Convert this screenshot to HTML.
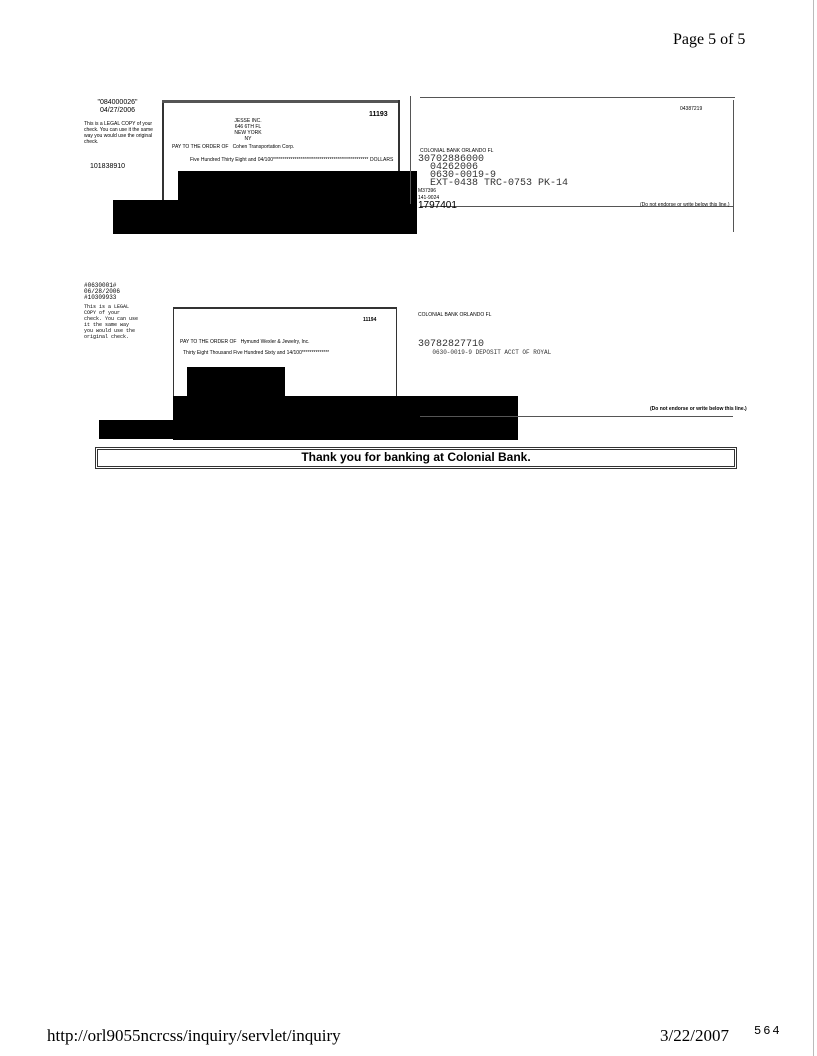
<!DOCTYPE html>
<html><head><meta charset="utf-8"><style>
body{margin:0;width:817px;height:1056px;background:#fff;position:relative;overflow:hidden;font-family:"Liberation Serif",serif;color:#000}
.a{position:absolute}
.s{font-family:"Liberation Sans",sans-serif;font-size:5px;line-height:6px}
.blk{position:absolute;background:#000}
.l{position:absolute;background:#555}
</style></head><body>
<div class="a" style="left:673px;top:31px;font-size:16px">Page 5 of 5</div>
<div class="l" style="left:813px;top:0;width:1px;height:1056px;background:#bbb"></div>

<!-- top check -->
<div class="a s" style="left:90px;top:99px;font-size:7px;line-height:8px;text-align:center;width:55px">"084000026"<br>04/27/2006</div>
<div class="a s" style="left:84px;top:121px;width:70px">This is a LEGAL COPY of your check. You can use it the same way you would use the original check.</div>
<div class="a s" style="left:90px;top:164px;font-size:7px">101838910</div>
<div class="a" style="left:162px;top:100px;width:234px;height:130px;border:2px solid #333;border-bottom:none"></div>
<div class="l" style="left:162px;top:100px;width:236px;height:3px"></div>
<div class="a s" style="left:369px;top:112px;font-size:7px;font-weight:bold">11193</div>
<div class="a s" style="left:233px;top:118px;width:30px;text-align:center">JESSE INC.<br>646 6TH FL<br>NEW YORK NY</div>
<div class="a s" style="left:172px;top:144px">PAY TO THE ORDER OF &nbsp; Cohen Transportation Corp.</div>
<div class="a s" style="left:190px;top:157px;width:200px;overflow:hidden;white-space:nowrap">Five Hundred Thirty Eight and 04/100*************************************************</div>
<div class="a s" style="left:370px;top:157px">DOLLARS</div>
<div class="blk" style="left:178px;top:171px;width:239px;height:63px"></div>
<div class="blk" style="left:113px;top:200px;width:70px;height:34px"></div>
<div class="l" style="left:410px;top:96px;width:1px;height:108px"></div>
<div class="l" style="left:420px;top:97px;width:315px;height:1px"></div>
<div class="l" style="left:733px;top:100px;width:1px;height:132px"></div>
<div class="l" style="left:420px;top:206px;width:313px;height:1px"></div>
<div class="a s" style="left:420px;top:148px;width:100px">COLONIAL BANK ORLANDO FL</div>
<div class="a" style="left:418px;top:156px;font-family:'Liberation Mono',monospace;font-size:10px;line-height:8px;color:#333">30702886000<br>&nbsp;&nbsp;04262006<br>&nbsp;&nbsp;0630-0019-9<br>&nbsp;&nbsp;EXT-0438 TRC-0753 PK-14</div>
<div class="a s" style="left:418px;top:188px">M37396</div>
<div class="a s" style="left:418px;top:195px">141-9024</div>
<div class="a" style="left:418px;top:200px;font-size:10px;font-family:'Liberation Sans',sans-serif">1797401</div>
<div class="a s" style="left:680px;top:106px">04387219</div>
<div class="a s" style="left:640px;top:202px">(Do not endorse or write below this line.)</div>

<!-- bottom check -->
<div class="a s" style="left:84px;top:283px;font-family:'Liberation Mono',monospace;font-size:6px">#0630001#<br>06/28/2006<br>#10309933</div>
<div class="a s" style="left:84px;top:304px;font-family:'Liberation Mono',monospace;width:55px">This is a LEGAL COPY of your check. You can use it the same way you would use the original check.</div>
<div class="a" style="left:173px;top:307px;width:222px;height:92px;border:1px solid #333;border-top:2px solid #333"></div>
<div class="a s" style="left:363px;top:317px;font-weight:bold">11194</div>
<div class="a s" style="left:180px;top:339px">PAY TO THE ORDER OF &nbsp; Hymund Wexler &amp; Jewelry, Inc.</div>
<div class="a s" style="left:183px;top:350px;width:200px;white-space:nowrap;overflow:hidden">Thirty Eight Thousand Five Hundred Sixty and 14/100**************</div>
<div class="blk" style="left:187px;top:367px;width:98px;height:29px"></div>
<div class="blk" style="left:173px;top:396px;width:345px;height:44px"></div>
<div class="blk" style="left:99px;top:420px;width:78px;height:19px"></div>
<div class="a" style="left:418px;top:341px;font-family:'Liberation Mono',monospace;font-size:10px;line-height:8px;color:#333">30782827710<br><span style="font-size:6px">&nbsp;&nbsp;&nbsp;&nbsp;0630-0019-9 DEPOSIT ACCT OF ROYAL</span></div>
<div class="a s" style="left:418px;top:312px">COLONIAL BANK ORLANDO FL</div>
<div class="l" style="left:420px;top:416px;width:313px;height:1px"></div>
<div class="a s" style="left:650px;top:406px;font-weight:bold">(Do not endorse or write below this line.)</div>

<!-- bar -->
<div class="a" style="left:95px;top:447px;width:636px;height:16px;border:3px double #333"></div>
<div class="a" style="left:95px;top:450px;width:642px;text-align:center;font-family:'Liberation Sans',sans-serif;font-size:12px;font-weight:bold">Thank you for banking at Colonial Bank.</div>

<div class="a" style="left:47px;top:1026px;font-size:17px">http://orl9055ncrcss/inquiry/servlet/inquiry</div>
<div class="a" style="left:660px;top:1026px;font-size:17px">3/22/2007</div>
<div class="a" style="left:754px;top:1024px;font-size:12px;font-family:'Liberation Mono',monospace;letter-spacing:2px">564</div>
</body></html>
